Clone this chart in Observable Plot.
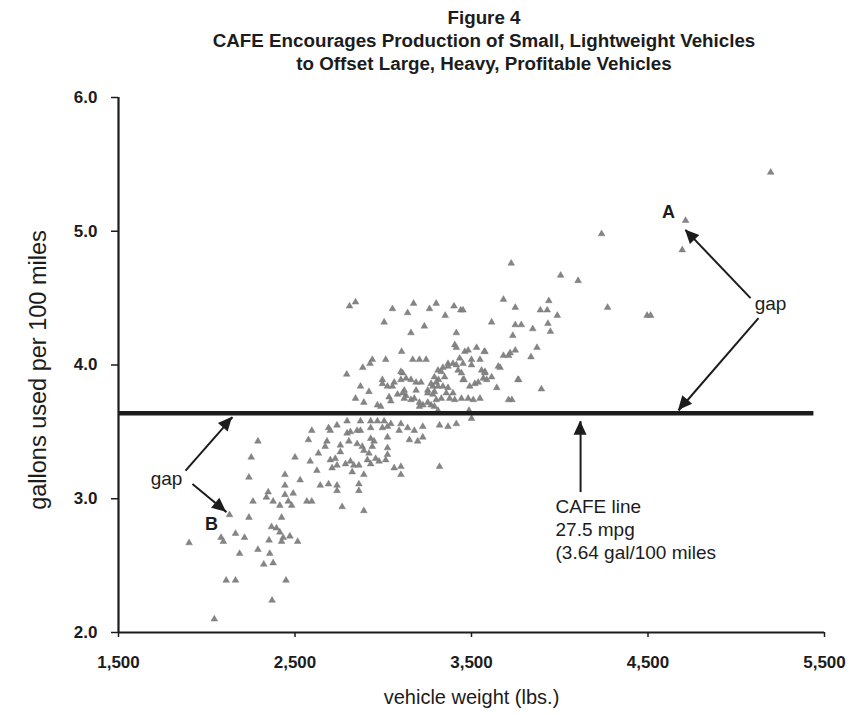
<!DOCTYPE html>
<html>
<head>
<meta charset="utf-8">
<script src="https://cdn.jsdelivr.net/npm/d3@7"></script>
<script src="https://cdn.jsdelivr.net/npm/@observablehq/plot@0.6"></script>
<style>
  body { margin: 0; background: #ffffff; }
  #wrap { width: 852px; height: 715px; position: relative; font-family: "Liberation Sans", Arial, sans-serif; color: #1c1c1c; }
  #title { height: 80px; box-sizing: border-box; padding-top: 6px; padding-left: 116px; text-align: center;
           font-weight: bold; font-size: 18.8px; line-height: 23px; }
  #chart svg { display: block; }
</style>
</head>
<body>
<div id="wrap">
  <div id="title">
    <div>Figure 4</div>
    <div>CAFE Encourages Production of Small, Lightweight Vehicles</div>
    <div>to Offset Large, Heavy, Profitable Vehicles</div>
  </div>
  <div id="chart"></div>
</div>
<script>
// ---- data (vehicle weight lbs, gallons per 100 miles) ----
const xTicks = [1500, 2500, 3500, 4500, 5500];
const yTicks = [2, 3, 4, 5, 6];
const cafeGallons = 3.64;
const cafeLineEnd = 5440;

const vehicles = [
  [5195,5.44],[4713,5.08],[4694,4.86],[4237,4.98],[3725,4.76],[4005,4.67],[4104,4.63],[3681,4.49],
  [3748,4.43],[3938,4.48],[3890,4.41],[3929,4.41],[3986,4.37],[4271,4.43],[4495,4.37],[4515,4.37],
  [3614,4.32],[3748,4.30],[3782,4.30],[3847,4.27],[3933,4.31],[3947,4.25],[3734,4.22],[3576,4.10],
  [3748,4.11],[3681,4.07],[3710,4.07],[3719,4.09],[3871,4.13],[3837,4.06],[3662,3.98],[3576,3.95],
  [3614,3.91],[3763,3.89],[3643,3.83],[3896,3.82],[3729,3.74],[3710,3.74],[3767,3.89],[3652,3.99],
  [2809,4.44],[2843,4.47],[3052,4.42],[3172,4.46],[3138,4.39],[3262,4.42],[3300,4.46],[3351,4.37],
  [3401,4.44],[3439,4.41],[3452,4.41],[3005,4.32],[3233,4.29],[3157,4.24],[3414,4.24],[3104,4.10],
  [3167,4.04],[3205,4.04],[3243,4.04],[3405,4.15],[3414,4.13],[3462,4.10],[3481,4.11],[3529,4.13],
  [3572,4.10],[2938,4.04],[2925,4.01],[2884,3.98],[3014,4.04],[2793,3.93],
  [3367,4.01],[3395,4.01],[3338,3.98],[3310,3.96],[3348,3.91],[3313,3.89],[3367,3.99],[3329,3.95],
  [3290,3.91],[3433,4.05],[3452,4.01],[3414,4.00],[3500,4.04],[3548,4.04],[3557,3.96],[3576,3.94],
  [3500,4.00],[3424,3.96],[3443,3.94],[3452,3.89],[3510,3.74],[3290,3.69],[3310,3.66],[3486,3.66],
  [3225,3.70],[3271,3.70],[3110,3.94],[3300,3.87],[3310,3.84],[3252,3.81],[3395,3.79],[3129,3.77],
  [3205,3.69],[3252,3.72],
  [3100,3.95],[2995,3.89],[3062,3.87],[3100,3.89],[3129,3.90],[3157,3.89],[3186,3.87],[3214,3.87],
  [2871,3.84],[2919,3.80],[3024,3.84],[3052,3.84],[3119,3.81],[3186,3.81],[3281,3.84],[3290,3.80],
  [3271,3.86],[3338,3.84],[3367,3.83],[3357,3.79],[3458,3.89],[3490,3.84],[3519,3.86],[3538,3.87],
  [3567,3.90],[3586,3.89],[2995,3.86],
  [2843,3.75],[2890,3.72],[2967,3.70],[2986,3.69],[3033,3.76],[3081,3.78],[3110,3.79],[3119,3.75],
  [3043,3.73],[3157,3.74],[3176,3.75],[3205,3.72],[3252,3.79],[3281,3.78],[3300,3.74],[3329,3.75],
  [3376,3.75],[3405,3.74],[3443,3.75],[3481,3.75],[3548,3.75],
  [2795,3.58],[2871,3.58],[2929,3.58],[2967,3.58],[3005,3.58],[3043,3.56],[3100,3.56],[2738,3.55],
  [3319,3.55],[3367,3.54],[3414,3.56],[3500,3.60],[3224,3.54],[3224,3.46],
  [2595,3.51],[2690,3.53],[2700,3.51],[2795,3.49],[2814,3.50],[2852,3.51],[2871,3.51],[2929,3.53],
  [2995,3.53],[3024,3.54],[3090,3.51],[3138,3.53],[3176,3.51],
  [3024,3.46],[2929,3.45],[2290,3.43],[2576,3.44],[2681,3.43],[2671,3.39],[2757,3.40],[2805,3.43],
  [2852,3.41],[2881,3.39],[2948,3.43],[2938,3.39],[3024,3.38],[3148,3.44],[3195,3.43],
  [2252,3.31],[2500,3.31],[2633,3.34],[2757,3.35],[2890,3.36],[2919,3.34],[3024,3.33],[3014,3.29],
  [2586,3.28],[2700,3.29],[2728,3.30],[2738,3.25],[2786,3.26],[2814,3.28],[2833,3.25],[2862,3.25],
  [2910,3.29],[2929,3.26],[2957,3.30],[2976,3.28],[3062,3.23],[3100,3.24],[2624,3.21],[2710,3.23],
  [2824,3.20],[2890,3.18],[3100,3.18],[2443,3.18],[2529,3.14],[2643,3.10],[2690,3.11],[2738,3.10],
  [2862,3.11],[2443,3.10],[2738,3.06],[2862,3.06],[2348,3.05],[2338,3.01],[2443,3.03],[2490,3.04],
  [2262,2.98],[2376,2.98],[2414,2.95],[2462,2.98],[2481,2.95],[2567,2.98],[2595,2.98],[2767,2.94],
  [2890,2.91],[3319,3.24],
  [2239,3.16],[2129,2.88],[2081,2.71],[2094,2.68],[2163,2.74],[2214,2.71],[2239,2.86],[1900,2.67],
  [2186,2.59],[2110,2.39],[2163,2.39],[2043,2.10],[2370,2.24],[2449,2.39],[2323,2.51],[2376,2.52],
  [2290,2.62],[2357,2.59],[2353,2.69],[2424,2.68],[2433,2.71],[2414,2.75],[2395,2.78],[2367,2.79],
  [2424,2.86],[2471,2.72],[2515,2.68]
];

// ---- annotations (data coordinates) ----
const letterLabels = [
  {w: 4616, g: 5.14, text: "A"},
  {w: 2027, g: 2.81, text: "B"}
];
const gapLabels = [
  {w: 5194, g: 4.46, text: "gap"},
  {w: 1772, g: 3.15, text: "gap"}
];
const cafeLabel = [{w: 3976, g: 2.78, text: "CAFE line\n27.5 mpg\n(3.64 gal/100 miles"}];
const arrows = [
  {x1: 5081, y1: 4.50, x2: 4712, y2: 5.01},
  {x1: 5126, y1: 4.35, x2: 4673, y2: 3.66},
  {x1: 1880, y1: 3.21, x2: 2146, y2: 3.61},
  {x1: 1919, y1: 3.11, x2: 2112, y2: 2.90},
  {x1: 4118, y1: 3.05, x2: 4118, y2: 3.58}
];

const ink = "#1c1c1c";
const fontFamily = '"Liberation Sans", Arial, sans-serif';

function arrowHeads(index, scales, values, dimensions) {
  const ns = "http://www.w3.org/2000/svg";
  const g = document.createElementNS(ns, "g");
  const L = 14, hw = 6.5;
  for (const a of arrows) {
    const px1 = scales.x(a.x1), py1 = scales.y(a.y1);
    const px2 = scales.x(a.x2), py2 = scales.y(a.y2);
    const dx = px2 - px1, dy = py2 - py1, len = Math.hypot(dx, dy);
    const ux = dx / len, uy = dy / len;
    const bx = px2 - ux * L, by = py2 - uy * L;
    const p = document.createElementNS(ns, "path");
    p.setAttribute("d", `M${px2},${py2}L${bx - uy * hw},${by + ux * hw}L${bx + uy * hw},${by - ux * hw}Z`);
    p.setAttribute("fill", ink);
    g.appendChild(p);
  }
  return g;
}

const plot = Plot.plot({
  width: 852,
  height: 635,
  marginLeft: 118,
  marginRight: 28,
  marginTop: 17,
  marginBottom: 83,
  style: {fontFamily, color: ink, background: "transparent"},
  x: {domain: [1500, 5500]},
  y: {domain: [2, 6]},
  marks: [
    Plot.axisX(xTicks, {tickFormat: d3.format(","), tickSize: 5, tickPadding: 18, fontSize: 17,
      fontWeight: "bold", label: null, stroke: ink, strokeWidth: 1.5, fill: ink}),
    Plot.axisY(yTicks, {tickFormat: d3.format(".1f"), tickSize: 7, tickPadding: 14, fontSize: 17,
      fontWeight: "bold", label: null, stroke: ink, strokeWidth: 1.5, fill: ink}),
    Plot.ruleX([1500], {stroke: ink, strokeWidth: 2.2}),
    Plot.ruleY([2], {stroke: ink, strokeWidth: 2.2}),
    Plot.dot(vehicles, {x: d => d[0], y: d => d[1], symbol: "triangle", r: 2.5, fill: "#858585", stroke: "#6e6e6e", strokeWidth: 0.4}),
    Plot.ruleY([{g: cafeGallons, w1: 1500, w2: cafeLineEnd}], {y: "g", x1: "w1", x2: "w2", stroke: ink, strokeWidth: 4.5}),
    Plot.link(arrows, {x1: "x1", y1: "y1", x2: "x2", y2: "y2", stroke: ink, strokeWidth: 2}),
    arrowHeads,
    Plot.text(letterLabels, {x: "w", y: "g", text: "text", fontSize: 18, fontWeight: "bold", fill: ink}),
    Plot.text(gapLabels, {x: "w", y: "g", text: "text", fontSize: 19, fill: ink}),
    Plot.text(cafeLabel, {x: "w", y: "g", text: "text", fontSize: 19, lineHeight: 1.21, textAnchor: "start", fill: ink}),
    Plot.text(["gallons used per 100 miles"], {frameAnchor: "left", dx: -80, dy: 5, rotate: -90, textAnchor: "middle", lineAnchor: "middle", fontSize: 23.5, fill: ink}),
    Plot.text(["vehicle weight (lbs.)"], {frameAnchor: "bottom", dy: 65, textAnchor: "middle", lineAnchor: "middle", fontSize: 20, fill: ink})
  ]
});
document.getElementById("chart").appendChild(plot);
</script>
</body>
</html>
